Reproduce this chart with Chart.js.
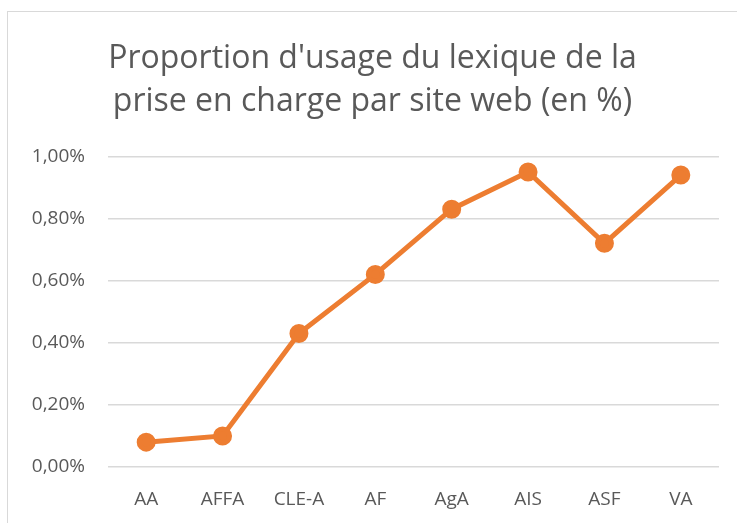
<!DOCTYPE html>
<html>
<head>
<meta charset="utf-8">
<script src="https://cdn.jsdelivr.net/npm/chart.js@4"></script>
<style>
  body { margin: 0; background: #fff; }
  #frame { position: absolute; left: 7px; top: 11px; width: 800px; height: 600px; border: 1px solid #d9d9d9; }
  #wrap { position: absolute; left: 0; top: 0; width: 737px; height: 523px; }
</style>
</head>
<body>
<div id="frame"></div>
<div id="wrap"><canvas id="chart"></canvas></div>
<script>
// Sites and usage share (in %)
const sites = ['AA', 'AFFA', 'CLE-A', 'AF', 'AgA', 'AIS', 'ASF', 'VA'];
const usage = [0.08, 0.10, 0.43, 0.62, 0.83, 0.95, 0.72, 0.94];
const titleLines = ["Proportion d'usage du lexique de la", 'prise en charge par site web (en %)'];

let ctx = document.getElementById('chart');

let usageChart = new Chart(ctx, {
    type: 'line',
    data: {
        labels: sites,
        datasets: [{
            data: usage,
            borderColor: '#ED7D31',
            backgroundColor: '#ED7D31',
            borderWidth: 5,
            pointRadius: 7,
            pointHoverRadius: 7,
            tension: 0
        }]
    },
    options: {
        responsive: true,
        maintainAspectRatio: false,
        animation: false,
        layout: {
            padding: { left: 26, right: 18, top: 0, bottom: 0 }
        },
        plugins: {
            legend: { display: false },
            tooltip: { enabled: false },
            title: {
                display: true,
                text: titleLines,
                color: '#595959',
                font: { family: 'Open Sans', size: 32, weight: 'normal', lineHeight: 1.35 },
                padding: { top: 37, bottom: 33 }
            }
        },
        scales: {
            x: {
                offset: true,
                grid: { display: false },
                border: { display: false },
                afterFit: function (scale) { scale.height = 56; },
                ticks: {
                    color: '#595959',
                    font: { family: 'Open Sans', size: 19 },
                    padding: 13
                }
            },
            y: {
                min: 0,
                max: 1,
                border: { display: false },
                grid: { color: '#d9d9d9', lineWidth: 1.5, drawTicks: false },
                afterFit: function (scale) { scale.width = 82; },
                ticks: {
                    stepSize: 0.2,
                    color: '#595959',
                    font: { family: 'Open Sans', size: 19 },
                    padding: 23,
                    callback: function (value) {
                        return value.toFixed(2).replace('.', ',') + '%';
                    }
                }
            }
        }
    }
});
</script>
</body>
</html>
